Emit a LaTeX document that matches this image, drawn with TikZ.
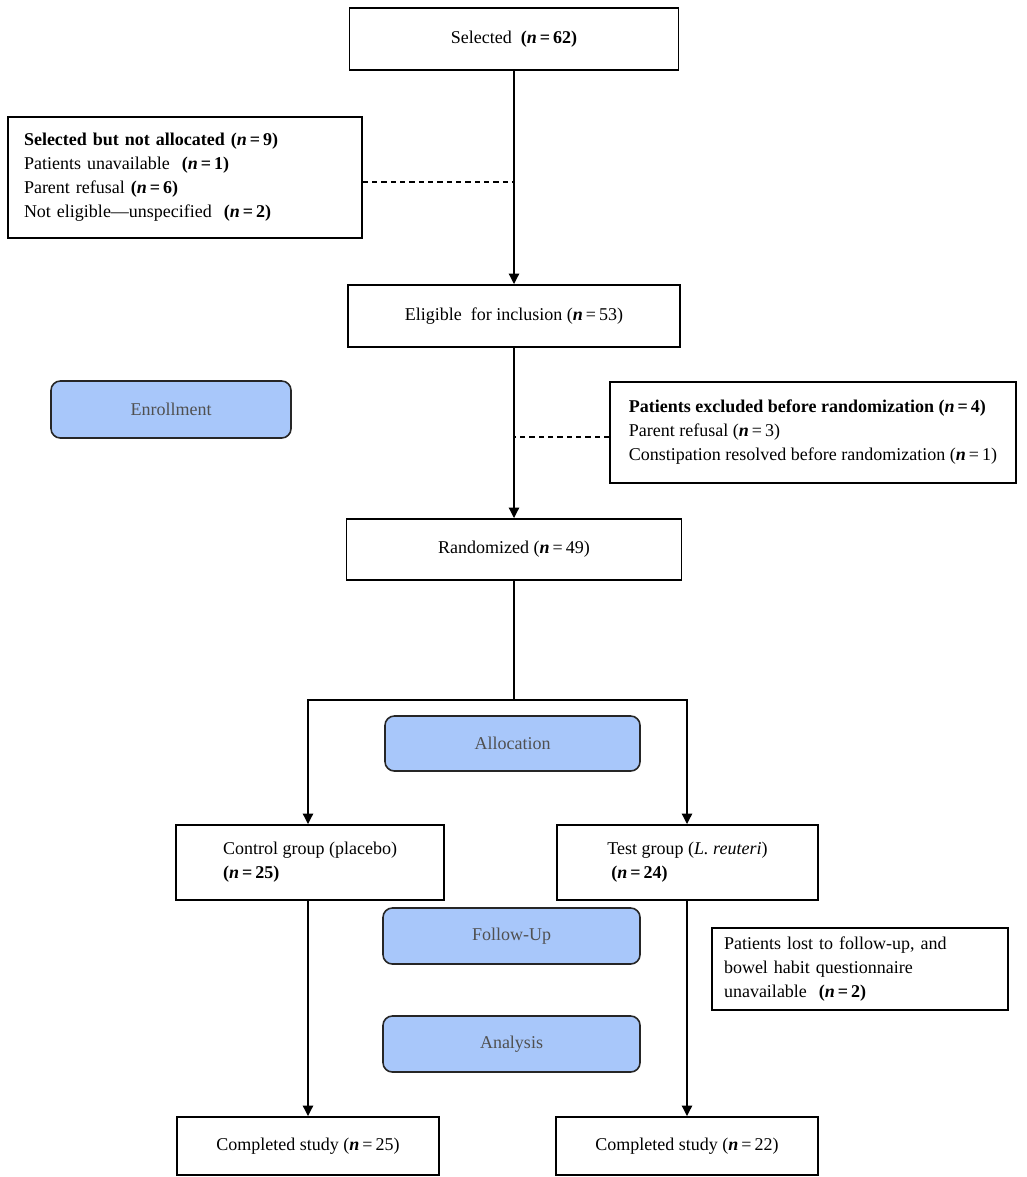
\documentclass[tikz,border=0pt]{standalone}
\usepackage{fontspec}
\setmainfont{Liberation Serif}
\usetikzlibrary{arrows.meta}
\definecolor{phasefill}{RGB}{168,199,250}
\definecolor{phasetext}{RGB}{80,80,80}
\newcommand{\nn}{\textbf{\textit{n}}}
\newcommand{\bn}[1]{\textbf{(\textit{n}\,=\,#1)}}
\newcommand{\rn}[1]{(\nn\,=\,#1)}
\begin{document}
\begin{tikzpicture}[x=0.75pt,y=-0.75pt,
  txt/.style={font=\fontsize{13.5}{18}\selectfont},
  box/.style={txt, draw=black, line width=1.2pt, fill=white, inner sep=0pt},
  phasebox/.style={txt, draw=black!85, line width=1.2pt, fill=phasefill,
    rounded corners=7pt, text=phasetext, inner sep=0pt},
  flow/.style={line width=1.9pt, -{Triangle[length=8pt,width=7.5pt]}},
  plainline/.style={line width=1.9pt},
  dashline/.style={line width=0.8pt, dash pattern=on 4pt off 3pt}
]
\useasboundingbox (0,0) rectangle (1026,1177);

\node[box, minimum width={329*0.75pt}, minimum height={62*0.75pt}] (sel) at (514,39)
  {Selected\ \ \bn{62}};

\node[box, minimum width={354*0.75pt}, minimum height={121*0.75pt},
      text width={322*0.75pt}, align=left] (nsa) at (185,177.5)
  {\textbf{Selected but not allocated (\textit{n}\,=\,9)}\\
   Patients unavailable\ \ \bn{1}\\
   Parent refusal \bn{6}\\
   Not eligible---unspecified\ \ \bn{2}};

\node[box, minimum width={332*0.75pt}, minimum height={62*0.75pt}] (elig) at (514,316)
  {Eligible\ \ for inclusion \rn{53}};

\node[phasebox, minimum width={240*0.75pt}, minimum height={57*0.75pt}] (enrol) at (171,409.5)
  {Enrollment};

\node[box, minimum width={406*0.75pt}, minimum height={101*0.75pt}, align=left] (excl) at (813,432.5)
  {\textbf{Patients excluded before randomization (\textit{n}\,=\,4)}\\
   Parent refusal \rn{3}\\
   Constipation resolved before randomization \rn{1}};

\node[box, minimum width={335*0.75pt}, minimum height={61*0.75pt}] (rand) at (514,549.5)
  {Randomized \rn{49}};

\node[phasebox, minimum width={255*0.75pt}, minimum height={55*0.75pt}] (alloc) at (512.5,743.5)
  {Allocation};

\node[box, minimum width={268*0.75pt}, minimum height={75*0.75pt}, align=left] (ctrl) at (310,862.5)
  {Control group (placebo)\\ \bn{25}};

\node[box, minimum width={261*0.75pt}, minimum height={75*0.75pt}, align=left] (test) at (687.5,862.5)
  {Test group (\textit{L. reuteri})\\ \hspace*{3pt}\bn{24}};

\node[phasebox, minimum width={257*0.75pt}, minimum height={56*0.75pt}] (follow) at (511.5,936)
  {Follow-Up};

\node[phasebox, minimum width={257*0.75pt}, minimum height={56*0.75pt}] (anal) at (511.5,1044)
  {Analysis};

\node[box, minimum width={296*0.75pt}, minimum height={82*0.75pt},
      text width={272*0.75pt}, align=left] (lost) at (860,969)
  {Patients lost to follow-up, and\\
   bowel habit questionnaire\\
   unavailable\ \ \bn{2}};

\node[box, minimum width={262*0.75pt}, minimum height={58*0.75pt}] (comp1) at (308,1146)
  {Completed study \rn{25}};

\node[box, minimum width={262*0.75pt}, minimum height={58*0.75pt}] (comp2) at (687,1146)
  {Completed study \rn{22}};

\coordinate (split) at (514,700);

% connectors
\draw[flow] (sel.south) -- (elig.north);
\draw[dashline] (nsa.east |- 0,182) -- (sel.south |- 0,182);
\draw[flow] (elig.south) -- (rand.north);
\draw[dashline] (excl.west |- 0,437) -- (elig.south |- 0,437);
\draw[plainline] (rand.south) -- (split);
\draw[plainline, line cap=rect] (comp1.north |- split) -- (comp2.north |- split);
\draw[flow] (comp1.north |- split) -- (comp1.north |- ctrl.north);
\draw[flow] (comp2.north |- split) -- (comp2.north |- test.north);
\draw[flow] (comp1.north |- ctrl.south) -- (comp1.north);
\draw[flow] (comp2.north |- test.south) -- (comp2.north);
\end{tikzpicture}
\end{document}
